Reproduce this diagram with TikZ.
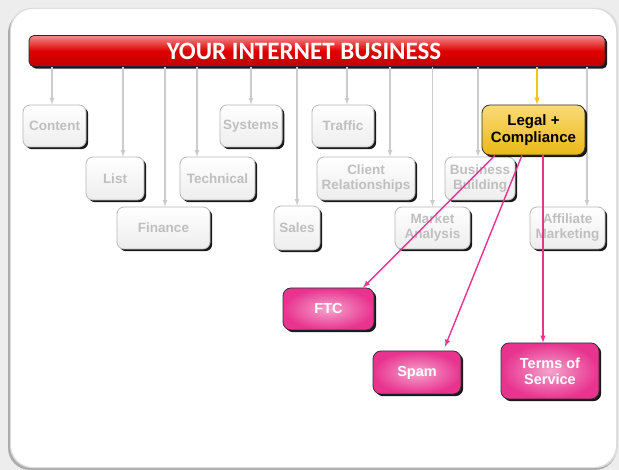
\documentclass[tikz,border=0pt]{standalone}
\usepackage{fontspec}
\setmainfont{Liberation Sans}
\newfontfamily\titlefont{Carlito}
\usetikzlibrary{positioning}
\usetikzlibrary{shadows}
\definecolor{BarRed}{rgb}{0.88, 0, 0}
\definecolor{Gold}{rgb}{0.97, 0.76, 0.1}
\definecolor{HotPink}{rgb}{0.91, 0.2, 0.56}
\definecolor{Wire}{rgb}{0.8, 0.8, 0.8}

\tikzset{
  boxshadow/.style={drop shadow={shadow xshift=2.2pt, shadow yshift=-2.2pt, opacity=.9, fill=black}},
  topic/.style={draw=black!28, line width=.8pt, rounded corners=7pt, top color=white, bottom color=black!7,
    text=black!25, font=\bfseries\fontsize{13.5}{15}\selectfont, align=center, boxshadow},
  legalbox/.style={draw=black!80, line width=.8pt, rounded corners=8pt, top color=Gold!60!white, bottom color=Gold!95!black,
    font=\bfseries\fontsize{15}{17}\selectfont, align=center, boxshadow},
  pinkbox/.style={draw=black!80, line width=.8pt, rounded corners=8pt, inner color=HotPink!45!white, outer color=HotPink,
    text=white, font=\bfseries\fontsize{14.5}{16}\selectfont, align=center, boxshadow},
  wire/.style={Wire, line width=1.2pt},
  pinkwire/.style={HotPink, line width=1.4pt}
}

\begin{document}
\begin{tikzpicture}[x=1pt, y=-1pt, >=latex]
      \useasboundingbox (0,0) rectangle (619,470);
      \fill[black!7] (0,0) rectangle (619,470);
      \fill[black!32, rounded corners=22pt] (8,11) rectangle (617,470);
      \fill[black!14, rounded corners=22pt] (10,8) rectangle (618,468);
      \fill[white, rounded corners=22pt] (11,9) rectangle (616,467);
      
      \node[draw=black!85, line width=.8pt, rounded corners=5pt, minimum width=576pt, minimum height=31pt,
        top color=BarRed!45!white, bottom color=BarRed!85!black, middle color=BarRed, boxshadow] (bar) at (317,51) {};
      \node[text=white, font=\titlefont\bfseries\fontsize{25}{27}\selectfont] (title) at (304,51) {YOUR INTERNET BUSINESS};
      
      \node[topic, minimum width=63pt, minimum height=42pt] (content) at (54.5,126) {Content};
      \node[topic, minimum width=58pt, minimum height=43pt] (list) at (115,178.5) {List};
      \node[topic, minimum width=93pt, minimum height=42pt] (finance) at (163.5,228) {Finance};
      \node[topic, minimum width=75pt, minimum height=43pt] (technical) at (217.5,178.5) {Technical};
      \node[topic, minimum width=62pt, minimum height=42pt] (systems) at (251,126) {Systems};
      \node[topic, minimum width=46pt, minimum height=44pt] (sales) at (297,228) {Sales};
      \node[topic, minimum width=62pt, minimum height=42pt] (traffic) at (343,126) {Traffic};
      \node[topic, minimum width=98pt, minimum height=43pt] (client) at (366,178.5) {Client\\Relationships};
      \node[topic, minimum width=70pt, minimum height=43pt] (business) at (480,178.5) {Business\\Building};
      \node[topic, minimum width=75pt, minimum height=42pt] (market) at (432.5,228) {Market\\Analysis};
      \node[topic, minimum width=75pt, minimum height=42pt] (affiliate) at (567.5,228) {Affiliate\\Marketing};
      
      \foreach \n/\dx in {content/-2.5, list/8, finance/1.5, technical/-20.5, systems/0, sales/0,
        traffic/4, client/24, business/-2, market/0, affiliate/19.5}
      \draw[wire, <-] ([xshift=\dx pt]\n.north) coordinate (tip) -- (bar.south -| tip);
      
      \node[legalbox, minimum width=103pt, minimum height=50pt] (legal) at (533.5,130) {Legal +\\Compliance};
      \draw[Gold, line width=1.4pt, <-] ([xshift=3.5pt]legal.north) coordinate (tip) -- (bar.south -| tip);
      
      \node[pinkbox, minimum width=91pt, minimum height=42pt] (ftc) at (328.5,309) {FTC};
      \node[pinkbox, minimum width=88pt, minimum height=43pt] (spam) at (417,372.5) {Spam};
      \node[pinkbox, minimum width=98pt, minimum height=56pt] (terms) at (550,371) {Terms of\\Service};
      
      \draw[pinkwire, ->] ([xshift=-38.5pt]legal.south) -- ([xshift=34.5pt]ftc.north);
      \draw[pinkwire, ->] ([xshift=-11.5pt]legal.south) -- ([xshift=28pt, yshift=4pt]spam.north);
      \draw[pinkwire, ->] ([xshift=9.5pt]legal.south) -- ([xshift=-7pt]terms.north);
    \end{tikzpicture}
\end{document}
